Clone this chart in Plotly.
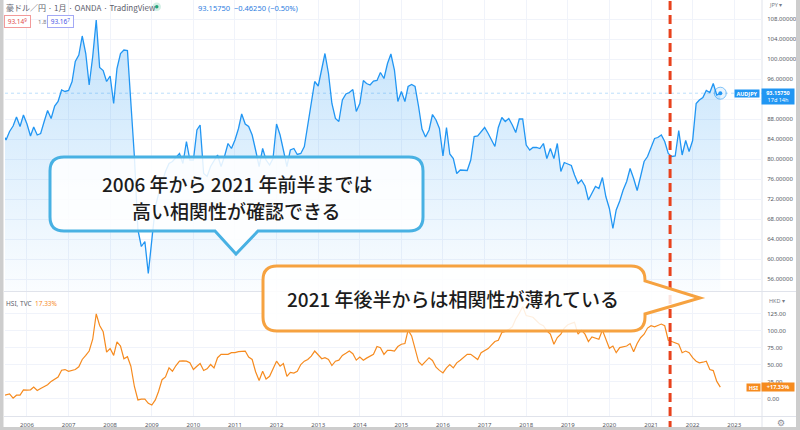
import plotly.graph_objects as go

W, H = 800, 430

# ---------------- data (monthly, from 2005-06 to 2022-09) ----------------
start_year, start_month = 2005, 6

audjpy = [
    85.1, 83.8, 85.5, 86.6, 88.4, 86.5, 88.8,
    87.0, 84.6, 86.4, 84.8, 85.1, 87.5, 89.7, 88.1, 90.6, 91.5, 93.8, 93.5,
    93.7, 95.5, 99.5, 100.8, 104.6, 101.1, 94.8, 100.5, 107.8, 98.3, 97.7, 95.5,
    96.6, 91.1, 98.1, 101.1, 101.8, 101.7, 92.1, 80.5, 65.8, 62.5, 63.5, 57.1,
    63.8, 70.5, 73.0, 75.5, 77.5, 79.1, 79.5, 80.3, 81.1, 79.1, 83.5, 79.8,
    79.8, 85.8, 86.8, 77.1, 76.5, 78.5, 79.5, 80.8, 78.5, 80.5, 83.1, 82.1,
    83.8, 86.1, 89.0, 87.0, 86.5, 84.8, 81.8, 78.5, 82.1, 79.8, 78.8, 80.1,
    87.0, 84.8, 81.8, 78.5, 81.8, 82.1, 80.9, 81.1, 82.5, 86.5, 91.1, 95.5,
    94.6, 97.8, 101.1, 97.1, 91.1, 88.1, 87.5, 91.8, 93.0, 93.3, 93.9, 89.5,
    91.1, 95.7, 95.1, 94.8, 95.6, 95.7, 97.3, 96.1, 99.1, 101.0, 97.8, 91.5,
    93.5, 91.5, 94.5, 94.9, 94.5, 90.5, 86.0, 84.4, 85.8, 88.9, 87.8, 86.1,
    80.6, 86.3, 81.0, 80.1, 77.1, 77.8, 77.8, 77.7, 79.8, 84.5, 84.6, 85.5,
    86.3, 85.1, 83.8, 82.5, 86.3, 88.3, 87.5, 88.1, 86.8, 85.3, 88.0, 88.0,
    82.8, 81.8, 82.3, 82.3, 82.1, 83.1, 80.1, 82.1, 80.1, 83.1, 77.5, 79.3,
    79.0, 78.7, 76.8, 75.1, 75.8, 74.6, 71.8, 73.1, 74.5, 74.1, 76.3, 72.5,
    70.1, 66.1, 69.8, 71.6, 73.8, 75.5, 78.1, 76.1, 73.7, 76.5, 79.5, 80.5,
    82.5, 84.1, 84.3, 84.8, 83.5, 81.1, 80.5, 80.6, 85.7, 80.8, 83.7, 81.5,
    83.7, 91.1, 91.8, 92.3, 93.7, 93.3, 95.1, 92.8, 93.1575,
]

hsi = [
    4.5, 6.0, 7.4, 1.0, 5.5, 5.5, 13.4,
    13.0, 13.4, 17.4, 12.4, 15.3, 18.0, 20.8, 25.8, 29.0, 32.3, 42.2, 43.2,
    40.7, 42.0, 43.2, 47.2, 58.0, 64.0, 70.4, 87.8, 125.0, 108.0, 98.7, 68.9,
    74.0, 64.0, 83.8, 77.8, 59.1, 62.1, 48.1, 18.3, -1.5, -0.4, -0.4, -6.4,
    -8.9, -1.5, 10.9, 28.3, 32.3, 45.7, 40.7, 49.1, 55.5, 56.0, 55.5, 53.1,
    43.2, 48.1, 52.1, 41.7, 44.2, 50.6, 45.7, 60.6, 65.5, 65.5, 65.5, 68.0,
    68.0, 69.5, 70.0, 70.4, 61.5, 58.0, 40.0, 27.2, 40.7, 29.3, 33.2, 43.2,
    55.5, 48.1, 52.1, 33.2, 39.1, 38.0, 40.7, 50.6, 55.5, 58.0, 63.0, 70.4,
    64.0, 59.1, 60.6, 58.0, 49.1, 55.5, 57.0, 64.0, 67.0, 70.4, 66.5, 57.0,
    61.5, 57.0, 60.0, 63.0, 65.5, 77.0, 75.4, 65.5, 71.4, 71.4, 70.4, 77.0,
    80.4, 81.4, 101.2, 92.7, 75.4, 54.6, 49.6, 55.0, 60.6, 56.5, 46.6, 42.0,
    38.2, 45.7, 50.6, 45.7, 53.1, 57.0, 60.6, 65.5, 65.5, 62.0, 58.0, 68.0,
    71.4, 74.0, 79.0, 84.4, 86.3, 97.8, 99.3, 102.0, 106.1, 117.6, 126.0, 135.9,
    122.5, 121.0, 120.1, 115.0, 110.0, 107.6, 100.1, 95.2, 80.4, 90.3, 95.2, 104.2,
    109.1, 111.0, 112.6, 95.2, 101.2, 95.2, 84.4, 91.2, 89.0, 87.8, 101.2, 87.8,
    74.4, 77.8, 68.0, 75.4, 77.0, 77.8, 81.4, 69.5, 81.4, 90.0, 95.2, 104.2,
    107.6, 106.1, 108.0, 110.1, 107.6, 86.3, 84.4, 82.0, 80.4, 68.0, 70.4, 68.0,
    60.6, 55.5, 53.1, 54.0, 55.5, 43.2, 41.7, 25.8, 17.33,
]

year_ticks = [f"{y}-01-01" for y in range(2006, 2024)]
year_labels = [str(y) for y in range(2006, 2024)]
jpy_ticks = [56, 60, 64, 68, 72, 76, 80, 84, 88, 92, 96, 100, 104, 108]
# the 92 label is hidden behind the price tag in the reference
jpy_labels = ["56.00000", "60.00000", "64.00000", "68.00000", "72.00000", "76.00000",
              "80.00000", "84.00000", "88.00000", "", "96.00000", "100.00000",
              "104.00000", "108.00000"]
hsi_ticks = [0, 25, 50, 75, 100, 125]
split_date = "2021-06-17"

dates = []
yy, mm = start_year, start_month
for _ in range(len(audjpy)):
    dates.append(f"{yy:04d}-{mm:02d}-01")
    mm += 1
    if mm > 12:
        mm = 1
        yy += 1

# ---------------- helpers ----------------
def fx(px):
    return px / W

def fy(py):
    return 1 - py / H

def P(px, py):
    return f"{fx(px):.5f},{fy(py):.5f}"

BLUE = "#2196f3"
ORANGE = "#f68b1f"
GRID = "#f0f3fa"
AX_TXT = "#55585f"
LATIN = "Noto Sans"
CJK = "Noto Sans CJK JP"

X_RANGE = ["2005-06-22", "2023-09-02"]

fig = go.Figure()

fig.add_trace(go.Scatter(
    x=dates, y=audjpy, mode="lines", xaxis="x", yaxis="y",
    line=dict(color=BLUE, width=1.3),
    fill="tozeroy",
    fillgradient=dict(type="vertical",
                      colorscale=[[0, "rgba(33,150,243,0.02)"], [1, "rgba(33,150,243,0.27)"]],
                      start=53.6, stop=108),
    hoverinfo="skip", showlegend=False,
))
fig.add_trace(go.Scatter(
    x=[dates[-1]], y=[audjpy[-1]], mode="markers", xaxis="x", yaxis="y",
    marker=dict(size=12, color="rgba(33,150,243,0.10)",
                line=dict(color="rgba(33,150,243,0.55)", width=1)),
    hoverinfo="skip", showlegend=False,
))
fig.add_trace(go.Scatter(
    x=[dates[-1]], y=[audjpy[-1]], mode="markers", xaxis="x", yaxis="y",
    marker=dict(size=4, color=BLUE),
    hoverinfo="skip", showlegend=False,
))
fig.add_trace(go.Scatter(
    x=dates, y=hsi, mode="lines", xaxis="x2", yaxis="y2",
    line=dict(color=ORANGE, width=1.2),
    hoverinfo="skip", showlegend=False,
))

tickfont = dict(family=LATIN, size=6, color=AX_TXT)

fig.update_layout(
    width=W, height=H,
    margin=dict(l=0, r=0, t=0, b=0),
    paper_bgcolor="white", plot_bgcolor="white",
    showlegend=False,
    xaxis=dict(domain=[fx(5), fx(762)], range=X_RANGE, type="date", anchor="y",
               tickvals=year_ticks, showticklabels=False, ticks="",
               showgrid=True, gridcolor=GRID, gridwidth=1, zeroline=False,
               showline=False),
    xaxis2=dict(domain=[fx(5), fx(762)], range=X_RANGE, type="date", anchor="y2",
                tickvals=year_ticks, ticktext=year_labels, tickfont=tickfont,
                ticks="outside", ticklen=3, tickcolor="rgba(0,0,0,0)",
                showgrid=True, gridcolor=GRID, gridwidth=1, zeroline=False,
                showline=False),
    yaxis=dict(domain=[fy(291), 1], range=[53.6, 111.8], side="right", anchor="x",
               tickvals=jpy_ticks, ticktext=jpy_labels, tickfont=tickfont,
               ticks="outside", ticklen=3, tickcolor="rgba(0,0,0,0)",
               showgrid=True, gridcolor=GRID, zeroline=False, showline=False),
    yaxis2=dict(domain=[fy(416), fy(292)], range=[-25.1, 157.2], side="right", anchor="x2",
                tickvals=hsi_ticks, tickformat=".2f", ticksuffix="%", tickfont=tickfont,
                ticks="outside", ticklen=3, tickcolor="rgba(0,0,0,0)",
                showgrid=True, gridcolor=GRID, zeroline=False, showline=False),
)

shapes = []
SEP = "#e0e3eb"
# pane / axis separators
shapes.append(dict(type="line", xref="paper", yref="paper", x0=fx(4), x1=fx(796), y0=fy(291.5), y1=fy(291.5),
                   line=dict(color=SEP, width=1), layer="below"))
shapes.append(dict(type="line", xref="paper", yref="paper", x0=fx(4), x1=fx(796), y0=fy(416.5), y1=fy(416.5),
                   line=dict(color=SEP, width=1), layer="below"))
shapes.append(dict(type="line", xref="paper", yref="paper", x0=fx(762), x1=fx(762), y0=fy(0), y1=fy(427),
                   line=dict(color=SEP, width=1), layer="below"))
# current price dotted line
shapes.append(dict(type="line", xref="paper", yref="y", x0=fx(5), x1=fx(762), y0=audjpy[-1], y1=audjpy[-1],
                   line=dict(color="rgba(33,150,243,0.30)", width=1, dash="dot"), layer="above"))
# red dashed split line
shapes.append(dict(type="line", xref="x", yref="paper", x0=split_date, x1=split_date, y0=0, y1=1,
                   line=dict(color="#e8421d", width=3, dash="9px,5px"), layer="above"))

# blue callout (rounded rectangle with tail at the bottom)
L, T, R, B, r = 50, 157, 423, 231, 14
tl, tr, tipx, tipy = 215, 258, 236, 254
path_blue = (f"M {P(L+r,T)} L {P(R-r,T)} Q {P(R,T)} {P(R,T+r)} L {P(R,B-r)} Q {P(R,B)} {P(R-r,B)} "
             f"L {P(tr,B)} L {P(tipx,tipy)} L {P(tl,B)} L {P(L+r,B)} Q {P(L,B)} {P(L,B-r)} "
             f"L {P(L,T+r)} Q {P(L,T)} {P(L+r,T)} Z")
shapes.append(dict(type="path", xref="paper", yref="paper", path=path_blue,
                   fillcolor="rgba(255,255,255,0.86)", line=dict(color="#48b1e3", width=3), layer="above"))

# orange callout (rounded rectangle with tail at the right)
L, T, R, B, r = 263, 266, 645, 331, 14
tt, tb, tipx, tipy = 281, 314, 700, 298
path_orange = (f"M {P(L+r,T)} L {P(R-r,T)} Q {P(R,T)} {P(R,T+r)} L {P(R,tt)} L {P(tipx,tipy)} L {P(R,tb)} "
               f"L {P(R,B-r)} Q {P(R,B)} {P(R-r,B)} L {P(L+r,B)} Q {P(L,B)} {P(L,B-r)} "
               f"L {P(L,T+r)} Q {P(L,T)} {P(L+r,T)} Z")
shapes.append(dict(type="path", xref="paper", yref="paper", path=path_orange,
                   fillcolor="rgba(255,255,255,0.86)", line=dict(color="#f6a240", width=3), layer="above"))

# header status dot
shapes.append(dict(type="circle", xref="paper", yref="paper", x0=fx(152.5), x1=fx(161), y0=fy(11), y1=fy(2.5),
                   fillcolor="#d3efe5", line=dict(width=0), layer="above"))
shapes.append(dict(type="circle", xref="paper", yref="paper", x0=fx(155), x1=fx(158.5), y0=fy(8.5), y1=fy(5),
                   fillcolor="#1fa57c", line=dict(width=0), layer="above"))

# outer gray frame
FRAME = "#cdcdcd"
shapes.append(dict(type="rect", xref="paper", yref="paper", x0=0, x1=fx(3.5), y0=0, y1=1,
                   fillcolor=FRAME, line=dict(width=0), layer="above"))
shapes.append(dict(type="rect", xref="paper", yref="paper", x0=fx(796), x1=1, y0=0, y1=1,
                   fillcolor=FRAME, line=dict(width=0), layer="above"))
shapes.append(dict(type="rect", xref="paper", yref="paper", x0=0, x1=1, y0=0, y1=fy(427),
                   fillcolor=FRAME, line=dict(width=0), layer="above"))

fig.update_layout(shapes=shapes)

ann = []
def A(text, px, py, size, color, xanchor="left", family=LATIN, **kw):
    d = dict(text=text, xref="paper", yref="paper", x=fx(px), y=fy(py), xanchor=xanchor,
             yanchor="middle", showarrow=False, font=dict(family=family, size=size, color=color))
    d.update(kw)
    ann.append(d)

# header
A("豪ドル／円 · 1月 · OANDA · TradingView", 4, 7, 8, "#5d606b", family=CJK)
A("93.15750  −0.46250 (−0.50%)", 196, 7.5, 7.5, "#2e7ee0")
A("93.14<sup>9</sup>", 17.5, 22, 6.5, "#e04b4b", xanchor="center", bordercolor="#f29a9a",
  borderwidth=1, borderpad=1, bgcolor="white", width=23, height=9)
A("1.8", 36, 22, 6, "#777b86")
A("93.16<sup>7</sup>", 60.5, 22, 6.5, "#4a57e6", xanchor="center", bordercolor="#a3a9f5",
  borderwidth=1, borderpad=1, bgcolor="white", width=23, height=9)
A("HSI, TVC  <span style='color:#f68b1f'>17.33%</span>", 4, 303, 6.5, "#5d606b")
A("JPY ▾", 767, 5, 5.5, "#777b86")
A("HKD ▾", 767, 301, 5.5, "#777b86")
A("⚙", 781, 423, 9, "#8a8d96", xanchor="center", family="DejaVu Sans")

# price tags (tied to last values)
ann.append(dict(text="<b>AUDJPY</b>", xref="paper", yref="y", x=fx(747), y=audjpy[-1],
                xanchor="center", yanchor="middle", showarrow=False, bgcolor=BLUE,
                font=dict(family=LATIN, size=5.5, color="white"), width=24, height=7, borderpad=0))
ann.append(dict(text="<b>93.15750</b><br>17d 14h", xref="paper", yref="y", x=fx(778), y=audjpy[-1],
                xanchor="center", yanchor="middle", yshift=-3.5, showarrow=False, bgcolor=BLUE,
                font=dict(family=LATIN, size=5.5, color="white"), width=32, height=15, borderpad=0))
ann.append(dict(text="<b>HSI</b>", xref="paper", yref="y2", x=fx(753.5), y=hsi[-1],
                xanchor="center", yanchor="middle", showarrow=False, bgcolor=ORANGE,
                font=dict(family=LATIN, size=5.5, color="white"), width=13, height=7, borderpad=0))
ann.append(dict(text="<b>+17.33%</b>", xref="paper", yref="y2", x=fx(778), y=hsi[-1],
                xanchor="center", yanchor="middle", showarrow=False, bgcolor=ORANGE,
                font=dict(family=LATIN, size=5.5, color="white"), width=32, height=8, borderpad=0))

# callout texts
cfont = dict(family=CJK, size=19, color="#1c1c1c", weight=500)
ann.append(dict(text="2006 年から 2021 年前半までは", xref="paper", yref="paper", x=fx(236.5), y=fy(183.5),
                xanchor="center", yanchor="middle", showarrow=False, font=cfont))
ann.append(dict(text="高い相関性が確認できる", xref="paper", yref="paper", x=fx(236.5), y=fy(210.5),
                xanchor="center", yanchor="middle", showarrow=False, font=cfont))
ann.append(dict(text="2021 年後半からは相関性が薄れている", xref="paper", yref="paper", x=fx(453), y=fy(298),
                xanchor="center", yanchor="middle", showarrow=False, font=cfont))

fig.update_layout(annotations=ann)

fig.write_html("out.html")
